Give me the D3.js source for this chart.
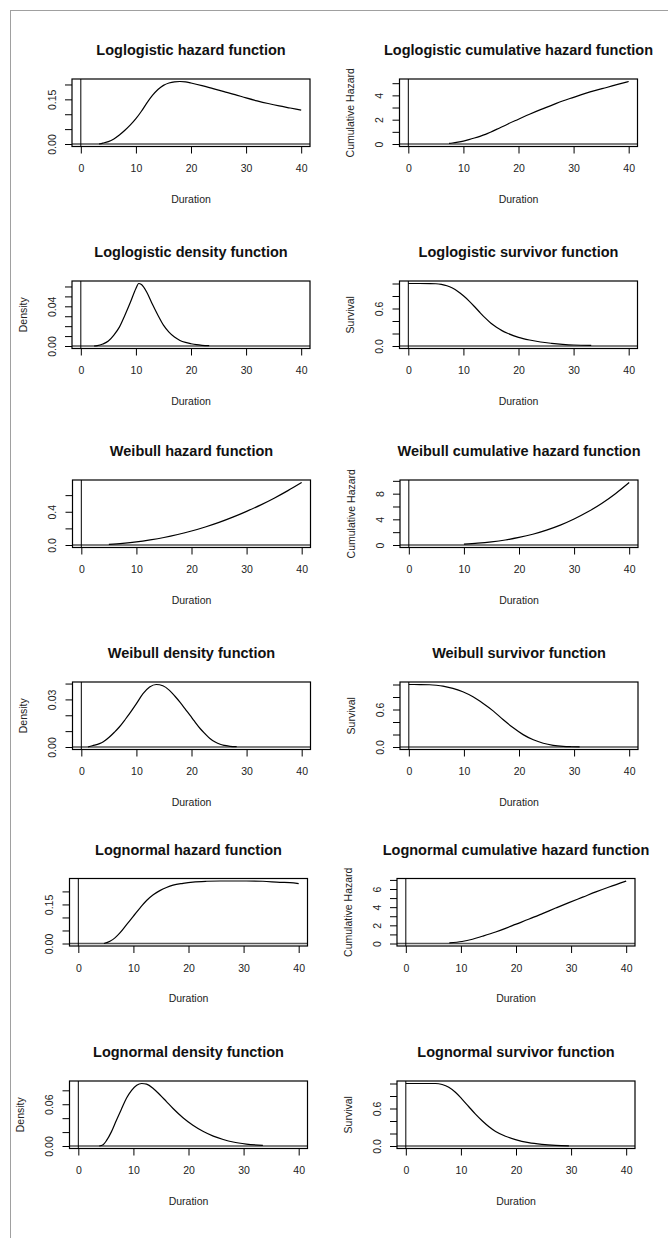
<!DOCTYPE html>
<html>
<head>
<meta charset="utf-8">
<script src="https://cdn.jsdelivr.net/npm/d3@7"></script>
<style>
  body { margin: 0; background: #fff; }
  svg { display: block; font-family: 'Liberation Sans', Arial, sans-serif; }
</style>
</head>
<body>
<div id="chart"></div>
<script>
// values
let xTicks = [0, 10, 20, 30, 40]

let llHazT = [3.3, 4, 5, 6, 7, 8, 9, 10, 11, 12, 13, 14, 15, 16, 17, 18, 19, 20, 22, 24, 26, 28, 30, 32, 34, 36, 38, 40]
let llHazV = [0, 0.003, 0.008, 0.017, 0.03, 0.046, 0.064, 0.085, 0.11, 0.138, 0.163, 0.183, 0.197, 0.205, 0.209, 0.21, 0.209, 0.205, 0.196, 0.186, 0.176, 0.166, 0.155, 0.145, 0.136, 0.128, 0.121, 0.114]

let llCumT = [7.4, 8, 9, 10, 11, 12, 13, 14, 15, 16, 18, 20, 22, 24, 26, 28, 30, 32, 34, 36, 38, 40]
let llCumV = [0.05, 0.08, 0.15, 0.24, 0.36, 0.49, 0.63, 0.79, 0.99, 1.2, 1.63, 2.04, 2.45, 2.83, 3.18, 3.54, 3.84, 4.14, 4.41, 4.65, 4.9, 5.14]

let llDenT = [2.4, 3, 4, 5, 6, 7, 8, 9, 10, 10.5, 11, 12, 13, 14, 15, 16, 17, 18, 19, 20, 21, 22, 23.3]
let llDenV = [0, 0.0003, 0.002, 0.005, 0.011, 0.019, 0.031, 0.044, 0.058, 0.063, 0.062, 0.054, 0.042, 0.031, 0.021, 0.014, 0.009, 0.0056, 0.0036, 0.0023, 0.0013, 0.0007, 0.0003]

let llSurT = [0, 2, 4, 5, 6, 7, 8, 9, 10, 11, 12, 13, 14, 15, 16, 17, 18, 20, 22, 24, 26, 28, 30, 33.2]
let llSurV = [1, 1, 0.999, 0.996, 0.985, 0.964, 0.927, 0.873, 0.803, 0.723, 0.632, 0.536, 0.445, 0.364, 0.3, 0.246, 0.204, 0.139, 0.096, 0.064, 0.043, 0.027, 0.016, 0.01]

let wbHazT = [5, 7.5, 10, 12.5, 15, 17.5, 20, 22.5, 25, 27.5, 30, 32.5, 35, 37.5, 40]
let wbHazV = [0.008, 0.02, 0.037, 0.061, 0.09, 0.126, 0.168, 0.217, 0.272, 0.335, 0.405, 0.48, 0.563, 0.654, 0.752]

let wbCumT = [10, 12.5, 15, 17.5, 20, 22.5, 25, 27.5, 30, 32.5, 35, 37.5, 40]
let wbCumV = [0.14, 0.28, 0.49, 0.78, 1.18, 1.68, 2.32, 3.1, 4.05, 5.17, 6.47, 8.0, 9.74]

let wbDenT = [1.2, 2, 3.3, 4, 5.1, 6, 6.9, 8, 8.75, 10, 11.2, 12.4, 13.6, 14.8, 16, 17, 17.9, 19, 19.75, 20.5, 21.6, 22.5, 23.4, 24.3, 25.2, 26, 27, 28.2]
let wbDenV = [0, 0.0008, 0.0021, 0.0033, 0.0063, 0.0093, 0.0126, 0.0175, 0.021, 0.0273, 0.0336, 0.0378, 0.0394, 0.0386, 0.0357, 0.032, 0.0283, 0.0233, 0.0199, 0.0164, 0.0115, 0.0082, 0.0052, 0.0031, 0.0017, 0.001, 0.0004, 0.0002]

let wbSurT = [0, 2, 3.76, 5, 6.2, 8, 9.8, 11.65, 13.5, 15.3, 17.1, 18.9, 20.75, 22.6, 24.4, 26.2, 28, 29.5, 31]
let wbSurV = [1, 0.999, 0.996, 0.988, 0.975, 0.937, 0.884, 0.803, 0.696, 0.578, 0.439, 0.311, 0.198, 0.115, 0.06, 0.027, 0.01, 0.004, 0.001]

let lnHazT = [4.65, 5.74, 6.65, 7.55, 8.76, 9.97, 11.18, 12.39, 13.6, 14.8, 16, 17.2, 19, 20.8, 23.3, 25.7, 28.1, 30.5, 33.5, 36.6, 38.4, 40]
let lnHazV = [0, 0.009, 0.0216, 0.0407, 0.0725, 0.104, 0.136, 0.165, 0.187, 0.203, 0.215, 0.224, 0.231, 0.236, 0.239, 0.24, 0.24, 0.24, 0.239, 0.235, 0.234, 0.23]

let lnCumT = [7.9, 10.2, 12.1, 13.9, 16.3, 18.1, 19.9, 22.4, 24.8, 27.2, 29.6, 32.1, 34.5, 36.9, 40]
let lnCumV = [0.07, 0.22, 0.47, 0.8, 1.27, 1.67, 2.1, 2.69, 3.29, 3.9, 4.5, 5.1, 5.68, 6.22, 6.88]

let lnDenT = [3.8, 4.5, 5.1, 6, 6.9, 7.85, 8.76, 9.67, 10.6, 11.5, 12.4, 13.6, 14.8, 16, 17.2, 19, 20.8, 22.7, 24.5, 26.3, 28.1, 30.5, 33.5]
let lnDenV = [0, 0.0019, 0.0076, 0.0203, 0.0368, 0.0534, 0.069, 0.08, 0.0874, 0.0898, 0.0888, 0.0827, 0.0737, 0.0638, 0.0539, 0.0406, 0.0298, 0.0208, 0.0142, 0.0094, 0.0057, 0.0028, 0.0009]

let lnSurT = [0, 5.4, 6.6, 7.8, 9, 10.2, 11.4, 12.6, 13.9, 15.1, 16.3, 18.1, 19.9, 22.3, 24.7, 27.2, 29.6]
let lnSurV = [1, 1, 0.984, 0.94, 0.86, 0.751, 0.632, 0.514, 0.4, 0.308, 0.232, 0.157, 0.103, 0.054, 0.027, 0.011, 0.003]

let titles = [
  'Loglogistic hazard function', 'Loglogistic cumulative hazard function',
  'Loglogistic density function', 'Loglogistic survivor function',
  'Weibull hazard function', 'Weibull cumulative hazard function',
  'Weibull density function', 'Weibull survivor function',
  'Lognormal hazard function', 'Lognormal cumulative hazard function',
  'Lognormal density function', 'Lognormal survivor function'
]
let yTitles = ['', 'Cumulative Hazard', 'Density', 'Survival', '', 'Cumulative Hazard', 'Density', 'Survival', '', 'Cumulative Hazard', 'Density', 'Survival']

let yTicks = [
  [0, 0.05, 0.1, 0.15, 0.2], [0, 1, 2, 3, 4, 5],
  [0, 0.01, 0.02, 0.03, 0.04, 0.05, 0.06], [0, 0.2, 0.4, 0.6, 0.8, 1],
  [0, 0.2, 0.4, 0.6], [0, 2, 4, 6, 8, 10],
  [0, 0.01, 0.02, 0.03, 0.04], [0, 0.2, 0.4, 0.6, 0.8, 1],
  [0, 0.05, 0.1, 0.15, 0.2], [0, 1, 2, 3, 4, 5, 6, 7],
  [0, 0.02, 0.04, 0.06, 0.08], [0, 0.2, 0.4, 0.6, 0.8, 1]
]
let yLabels = [
  ['0.00', '0.15'], ['0', '2', '4'], ['0.00', '0.04'], ['0.0', '0.6'],
  ['0.0', '0.4'], ['0', '4', '8'], ['0.00', '0.03'], ['0.0', '0.6'],
  ['0.00', '0.15'], ['0', '2', '4', '6'], ['0.00', '0.06'], ['0.0', '0.6']
]

let curves = [
  [llHazT, llHazV], [llCumT, llCumV], [llDenT, llDenV], [llSurT, llSurV],
  [wbHazT, wbHazV], [wbCumT, wbCumV], [wbDenT, wbDenV], [wbSurT, wbSurV],
  [lnHazT, lnHazV], [lnCumT, lnCumV], [lnDenT, lnDenV], [lnSurT, lnSurV]
]

// layout
let W = 668
let H = 1238
let rowTop = [79, 281, 480, 682, 878.5, 1081]
let rowShift = [0, 0, 0.5, 0.5, -2.5, -2.5]
let colLeft = [72, 399.5]
let boxW = 238
let boxH = 67.5

function main () {
  let svg = d3.select('#chart').append('svg').attr('width', W).attr('height', H)

  svg.append('line').attr('x1', 10).attr('x2', W).attr('y1', 10.5).attr('y2', 10.5)
    .attr('stroke', '#a0a0a0')
  svg.append('line').attr('x1', 10.5).attr('x2', 10.5).attr('y1', 10).attr('y2', H)
    .attr('stroke', '#a0a0a0')

  for (let i = 0; i < 12; i++) {
    let row = Math.floor(i / 2)
    let col = i % 2
    drawPanel(svg, i, colLeft[col] + rowShift[row], rowTop[row])
  }
}

function drawPanel (svg, i, left, top) {
  let t = curves[i][0]
  let v = curves[i][1]
  let pts = t.map((d, k) => [d, v[k]])
  let ymax = d3.max(v)

  let x = d3.scaleLinear().domain([-1.6, 41.6]).range([0, boxW])
  let y = d3.scaleLinear().domain([-0.04 * ymax, 1.04 * ymax]).range([boxH, 0])

  let g = svg.append('g').attr('transform', `translate(${left},${top})`)

  let xa = g.append('g').attr('transform', `translate(0,${boxH})`)
    .call(d3.axisBottom(x).tickValues(xTicks).tickSize(7).tickSizeOuter(0).tickPadding(11.5))
  xa.select('.domain').remove()
  xa.selectAll('line').attr('stroke', '#000')
  xa.selectAll('text').attr('font-size', 10.5).attr('fill', '#222').attr('font-family', null)

  let labs = yLabels[i]
  let ya = g.append('g')
    .call(d3.axisLeft(y).tickValues(yTicks[i]).tickSize(7).tickSizeOuter(0)
      .tickFormat((d) => {
        let s = d3.format(labs[0].length > 1 ? '.' + (labs[0].length - 2) + 'f' : 'd')(d)
        return labs.includes(s) ? s : ''
      }))
  ya.select('.domain').remove()
  ya.selectAll('line').attr('stroke', '#000')
  ya.selectAll('text')
    .attr('font-size', 10.5).attr('fill', '#222').attr('font-family', null)
    .attr('x', 0).attr('y', -16.5).attr('dy', 0)
    .attr('text-anchor', 'middle').attr('transform', 'rotate(-90)')

  // reference lines at zero
  g.append('line').attr('x1', 0).attr('x2', boxW).attr('y1', y(0)).attr('y2', y(0))
    .attr('stroke', '#555').attr('stroke-width', 1.3)
  g.append('line').attr('x1', x(0)).attr('x2', x(0)).attr('y1', 0).attr('y2', boxH)
    .attr('stroke', '#000').attr('stroke-width', 1)

  let line = d3.line().x((d) => x(d[0])).y((d) => y(d[1])).curve(d3.curveMonotoneX)
  g.append('path').attr('d', line(pts)).attr('fill', 'none')
    .attr('stroke', '#000').attr('stroke-width', 1.2)

  g.append('rect').attr('width', boxW).attr('height', boxH)
    .attr('fill', 'none').attr('stroke', '#000').attr('stroke-width', 1.2)

  g.append('text').attr('x', boxW / 2).attr('y', -24)
    .attr('text-anchor', 'middle').attr('font-size', 14.5).attr('font-weight', 'bold')
    .attr('fill', '#111').text(titles[i])

  g.append('text').attr('x', boxW / 2).attr('y', boxH + 56)
    .attr('text-anchor', 'middle').attr('font-size', 10.5).attr('fill', '#222').text('Duration')

  if (yTitles[i]) {
    g.append('text').attr('transform', `translate(-45.5,${boxH / 2}) rotate(-90)`)
      .attr('text-anchor', 'middle').attr('font-size', 10.5).attr('fill', '#222').text(yTitles[i])
  }
}

main()
</script>
</body>
</html>
